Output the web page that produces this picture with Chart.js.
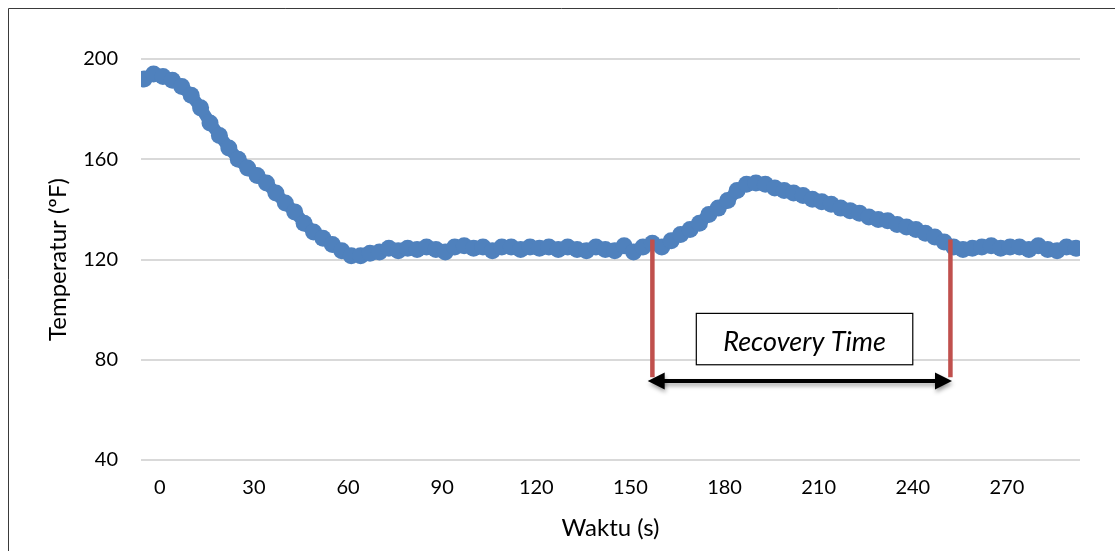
<!DOCTYPE html>
<html lang="id">
<head>
    <meta charset="UTF-8">
    <title>Recovery Time</title>
    <script src="https://cdn.jsdelivr.net/npm/chart.js"></script>
    <style>
        html, body { margin: 0; padding: 0; background: #fff; }
        #wrap { width: 1115px; height: 551px; position: relative; }
    </style>
</head>
<body>
    <div id="wrap">
        <canvas id="tempChart"></canvas>
    </div>

    <script>
        // waktu (s) dan temperatur (ºF)
        const waktu = [
            -5, -2, 1, 4, 7, 10, 13, 16, 19, 22,
            25, 28, 31, 34, 37, 40, 43, 46, 49, 52,
            55, 58, 61, 64, 67, 70, 73, 76, 79, 82,
            85, 88, 91, 94, 97, 100, 103, 106, 109, 112,
            115, 118, 121, 124, 127, 130, 133, 136, 139, 142,
            145, 148, 151, 154, 157, 160, 163, 166, 169, 172,
            175, 178, 181, 184, 187, 190, 193, 196, 199, 202,
            205, 208, 211, 214, 217, 220, 223, 226, 229, 232,
            235, 238, 241, 244, 247, 250, 253, 256, 259, 262,
            265, 268, 271, 274, 277, 280, 283, 286, 289, 292
        ];
        const temperatur = [
            192, 194, 193, 191.5, 189, 185.5, 180.5, 174.5, 169.5, 164.5,
            160, 156.5, 153.5, 150.5, 146.5, 142.5, 139, 134.5, 131, 128.5,
            126, 123.5, 121.5, 121.5, 122.5, 123, 124.5, 123.5, 124.5, 124,
            125, 124, 123, 125, 125.5, 124.5, 125, 123.5, 125, 125,
            124, 125, 124.5, 125, 124, 125, 124, 123.5, 125, 124,
            123.5, 125.5, 123, 125, 126.5, 125, 127.5, 130, 132, 134.5,
            138, 140.5, 143.5, 147.5, 150, 150.5, 150, 148.5, 147.5, 146.5,
            145.5, 144, 143, 142, 140.5, 139.5, 138.5, 137, 136, 135.5,
            134, 133, 132, 130.5, 129, 127, 125, 124, 124.5, 125,
            125.5, 124.5, 125, 125, 124, 125.5, 124, 123.5, 125, 124.5
        ];
        const xTicks = [0, 30, 60, 90, 120, 150, 180, 210, 240, 270];
        const yTicks = [40, 80, 120, 160, 200];

        // anotasi recovery time (dalam satuan data)
        const recoveryStart = 157;
        const recoveryEnd = 252;
        const recoveryTop = 128;
        const recoveryBottom = 73;
        const arrowLevel = 71.5;
        const boxRange = [171, 240];
        const boxTempRange = [78, 98.5];
        const recoveryLabel = 'Recovery Time';

        const FONT = 'Lato, "Open Sans", sans-serif';

        const recoveryPlugin = {
            id: 'recovery',
            afterDatasetsDraw(chart) {
                const ctx = chart.ctx;
                const x = chart.scales.x;
                const y = chart.scales.y;
                const x1 = x.getPixelForValue(recoveryStart);
                const x2 = x.getPixelForValue(recoveryEnd);
                ctx.save();

                // garis merah
                ctx.strokeStyle = '#C0504D';
                ctx.lineWidth = 4.5;
                [x1, x2].forEach(px => {
                    ctx.beginPath();
                    ctx.moveTo(px, y.getPixelForValue(recoveryTop));
                    ctx.lineTo(px, y.getPixelForValue(recoveryBottom));
                    ctx.stroke();
                });

                // kotak teks
                const bx1 = x.getPixelForValue(boxRange[0]);
                const bx2 = x.getPixelForValue(boxRange[1]);
                const by1 = y.getPixelForValue(boxTempRange[1]);
                const by2 = y.getPixelForValue(boxTempRange[0]);
                ctx.fillStyle = '#fff';
                ctx.fillRect(bx1, by1, bx2 - bx1, by2 - by1);
                ctx.strokeStyle = '#000';
                ctx.lineWidth = 1.2;
                ctx.strokeRect(bx1, by1, bx2 - bx1, by2 - by1);
                ctx.fillStyle = '#000';
                ctx.font = 'italic 27px ' + FONT;
                ctx.textAlign = 'center';
                ctx.textBaseline = 'middle';
                ctx.fillText(recoveryLabel, (bx1 + bx2) / 2, (by1 + by2) / 2 + 3);

                // panah dua arah
                const ay = y.getPixelForValue(arrowLevel);
                const ax1 = x.getPixelForValue(recoveryStart - 1.5);
                const ax2 = x.getPixelForValue(recoveryEnd + 0.5);
                ctx.shadowColor = 'rgba(0,0,0,0.35)';
                ctx.shadowBlur = 4;
                ctx.shadowOffsetY = 3;
                ctx.shadowOffsetX = 1;
                ctx.strokeStyle = '#000';
                ctx.fillStyle = '#000';
                ctx.lineWidth = 4;
                ctx.beginPath();
                ctx.moveTo(ax1 + 10, ay);
                ctx.lineTo(ax2 - 10, ay);
                ctx.stroke();
                ctx.beginPath();
                ctx.moveTo(ax1, ay);
                ctx.lineTo(ax1 + 17, ay - 8.5);
                ctx.lineTo(ax1 + 17, ay + 8.5);
                ctx.closePath();
                ctx.fill();
                ctx.beginPath();
                ctx.moveTo(ax2, ay);
                ctx.lineTo(ax2 - 17, ay - 8.5);
                ctx.lineTo(ax2 - 17, ay + 8.5);
                ctx.closePath();
                ctx.fill();
                ctx.restore();
            }
        };

        const framePlugin = {
            id: 'frame',
            afterDraw(chart) {
                const ctx = chart.ctx;
                ctx.save();
                ctx.strokeStyle = '#3a3a3a';
                ctx.lineWidth = 1;
                ctx.beginPath();
                ctx.moveTo(8.5, chart.height);
                ctx.lineTo(8.5, 8.5);
                ctx.lineTo(chart.width, 8.5);
                ctx.stroke();
                ctx.restore();
            }
        };

        const data = waktu.map((t, i) => ({ x: t, y: temperatur[i] }));

        new Chart(document.getElementById('tempChart'), {
            type: 'line',
            data: {
                datasets: [{
                    label: 'Temperatur',
                    data: data,
                    borderColor: '#4F81BD',
                    backgroundColor: '#4F81BD',
                    borderWidth: 12,
                    borderJoinStyle: 'round',
                    borderCapStyle: 'round',
                    pointRadius: 8.5,
                    pointHoverRadius: 8.5,
                    pointBorderWidth: 0,
                    tension: 0,
                    fill: false
                }]
            },
            options: {
                responsive: true,
                maintainAspectRatio: false,
                animation: false,
                layout: { padding: { left: 0, top: 59, right: 35, bottom: 0 } },
                plugins: {
                    legend: { display: false },
                    tooltip: { enabled: false }
                },
                scales: {
                    x: {
                        type: 'linear',
                        min: -6,
                        max: 293.3,
                        afterBuildTicks: s => { s.ticks = xTicks.map(v => ({ value: v })); },
                        afterFit: s => { s.height = 91; },
                        grid: { display: false, drawTicks: false },
                        border: { display: false },
                        ticks: {
                            padding: 16,
                            color: '#000',
                            font: { family: FONT, size: 20 }
                        },
                        title: {
                            display: true,
                            text: 'Waktu (s)',
                            color: '#000',
                            font: { family: FONT, size: 24 },
                            padding: { top: 0, bottom: 8 }
                        }
                    },
                    y: {
                        min: 40,
                        max: 200,
                        afterBuildTicks: s => { s.ticks = yTicks.map(v => ({ value: v })); },
                        afterFit: s => { s.width = 141; },
                        grid: { color: '#d9d9d9', lineWidth: 2, drawTicks: false },
                        border: { display: false },
                        ticks: {
                            padding: 23,
                            color: '#000',
                            font: { family: FONT, size: 20 }
                        },
                        title: {
                            display: true,
                            text: 'Temperatur (ºF)',
                            color: '#000',
                            font: { family: FONT, size: 24 },
                            padding: { top: 44, bottom: 0 }
                        }
                    }
                }
            },
            plugins: [recoveryPlugin, framePlugin]
        });
    </script>
</body>
</html>
